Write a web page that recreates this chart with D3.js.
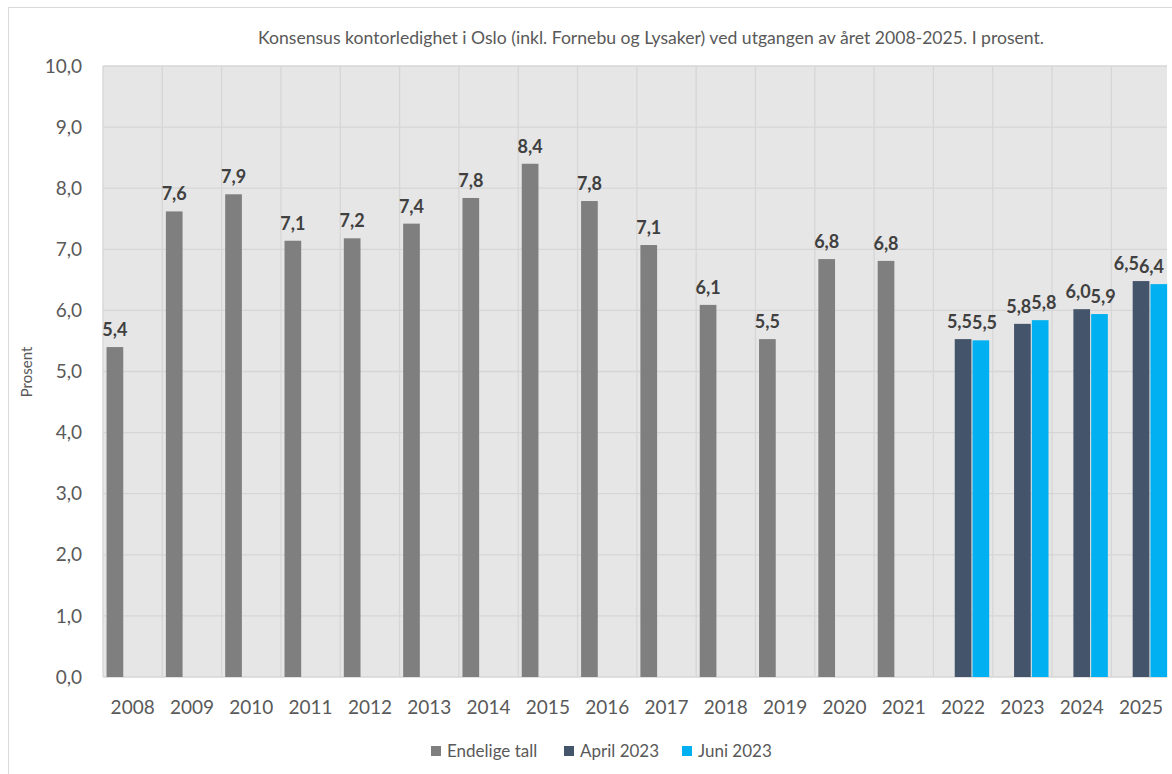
<!DOCTYPE html>
<html lang="no">
<head>
<meta charset="UTF-8">
<title>Konsensus kontorledighet i Oslo</title>
<script src="https://d3js.org/d3.v7.min.js"></script>
<style>
  body { margin: 0; background: #fff; }
  svg { display: block; font-family: Lato, "Open Sans", sans-serif; }
</style>
</head>
<body>
<script>
  // data
  const years = ["2008","2009","2010","2011","2012","2013","2014","2015","2016","2017","2018","2019","2020","2021","2022","2023","2024","2025"];
  const endelige = [5.40, 7.62, 7.90, 7.14, 7.18, 7.42, 7.84, 8.40, 7.79, 7.07, 6.09, 5.53, 6.84, 6.81, null, null, null, null];
  const april = [null, null, null, null, null, null, null, null, null, null, null, null, null, null, 5.53, 5.78, 6.02, 6.48];
  const juni = [null, null, null, null, null, null, null, null, null, null, null, null, null, null, 5.51, 5.84, 5.94, 6.43];
  const seriesNames = ["Endelige tall", "April 2023", "Juni 2023"];
  const seriesColors = ["#7f7f7f", "#44546a", "#00b0f0"];
  const yTicks = [0, 1, 2, 3, 4, 5, 6, 7, 8, 9, 10];

  const W = 1172, H = 774;
  const plot = { left: 103, top: 66, right: 1170.7, bottom: 677 };
  const visibleRight = 1167;

  const svg = d3.select("body").append("svg")
      .attr("width", W)
      .attr("height", H);

  // outer chart frame (cut off by the screenshot on right/bottom)
  svg.append("rect")
      .attr("x", 8.5).attr("y", 7.5)
      .attr("width", W + 10).attr("height", H + 10)
      .attr("fill", "#fff")
      .attr("stroke", "#d9d9d9");

  const x = d3.scaleBand().domain(years).range([plot.left, plot.right]).padding(0);
  const xInner = d3.scaleBand().domain(seriesNames).range([0, x.bandwidth()])
      .paddingInner(0.06).paddingOuter(0.2);
  const y = d3.scaleLinear().domain([0, 10]).range([plot.bottom, plot.top]);

  // plot background
  svg.append("rect")
      .attr("x", plot.left).attr("y", plot.top)
      .attr("width", visibleRight - plot.left).attr("height", plot.bottom - plot.top)
      .attr("fill", "#e6e6e6");

  // grid
  const grid = svg.append("g").attr("stroke", "#d6d6d6").attr("stroke-width", 1.3);
  grid.selectAll("line.h").data(yTicks).join("line")
      .attr("class", "h")
      .attr("x1", plot.left).attr("x2", visibleRight)
      .attr("y1", d => y(d)).attr("y2", d => y(d));
  grid.selectAll("line.v").data(years).join("line")
      .attr("class", "v")
      .attr("x1", d => x(d)).attr("x2", d => x(d))
      .attr("y1", plot.top).attr("y2", plot.bottom);

  // y axis labels
  svg.append("g").selectAll("text").data(yTicks).join("text")
      .attr("x", 82)
      .attr("y", d => y(d))
      .attr("dy", "0.35em")
      .attr("text-anchor", "end")
      .attr("fill", "#595959")
      .attr("font-size", 19)
      .text(d => d3.format(".1f")(d).replace(".", ","));

  // x axis labels
  svg.append("g").selectAll("text").data(years).join("text")
      .attr("x", d => x(d) + x.bandwidth() / 2)
      .attr("y", 714)
      .attr("text-anchor", "middle")
      .attr("fill", "#595959")
      .attr("font-size", 19)
      .text(d => d);

  // bars
  const allSeries = [endelige, april, juni];
  const bars = [];
  allSeries.forEach((vals, i) => {
    vals.forEach((v, j) => {
      if (v != null) bars.push({ year: years[j], series: seriesNames[i], color: seriesColors[i], value: v });
    });
  });

  svg.append("g").selectAll("rect").data(bars).join("rect")
      .attr("x", d => x(d.year) + xInner(d.series))
      .attr("y", d => y(d.value))
      .attr("width", xInner.bandwidth())
      .attr("height", d => y(0) - y(d.value))
      .attr("fill", d => d.color);

  // data labels; the forecast pair is pushed apart so the two labels sit side by side
  const boundary = (xInner("April 2023") + xInner.bandwidth() + xInner("Juni 2023")) / 2;
  const labels = svg.append("g").selectAll("text").data(bars).join("text")
      .attr("x", d => {
        if (d.series === "April 2023" || d.series === "Juni 2023") return x(d.year) + boundary;
        return x(d.year) + xInner(d.series) + xInner.bandwidth() / 2;
      })
      .attr("y", d => y(d.value) - 11)
      .attr("text-anchor", d => d.series === "April 2023" ? "end" : d.series === "Juni 2023" ? "start" : "middle")
      .attr("fill", "#404040")
      .attr("font-size", 18)
      .attr("font-weight", "bold")
      .text(d => d3.format(".1f")(d.value).replace(".", ","));

  // keep labels inside the visible plot: shift a whole year's pair left if needed
  const shiftByYear = {};
  labels.each(function (d) {
    const bb = this.getBBox();
    const over = bb.x + bb.width - (visibleRight - 3);
    if (over > 0) shiftByYear[d.year] = Math.max(shiftByYear[d.year] || 0, over);
  });
  labels.filter(d => shiftByYear[d.year])
      .attr("x", function (d) { return +d3.select(this).attr("x") - shiftByYear[d.year]; });

  // title
  svg.append("text")
      .attr("x", 651)
      .attr("y", 44)
      .attr("text-anchor", "middle")
      .attr("fill", "#595959")
      .attr("font-size", 17.6)
      .text("Konsensus kontorledighet i Oslo (inkl. Fornebu og Lysaker) ved utgangen av året 2008-2025. I prosent.");

  // y axis title
  svg.append("text")
      .attr("transform", "translate(32,372) rotate(-90)")
      .attr("text-anchor", "middle")
      .attr("fill", "#595959")
      .attr("font-size", 15)
      .text("Prosent");

  // legend
  const legendX = [431, 564, 682];
  const legend = svg.append("g").selectAll("g").data(seriesNames).join("g")
      .attr("transform", (d, i) => `translate(${legendX[i]},746)`);
  legend.append("rect")
      .attr("width", 10).attr("height", 10)
      .attr("fill", (d, i) => seriesColors[i]);
  legend.append("text")
      .attr("x", 16).attr("y", 5)
      .attr("dy", "0.35em")
      .attr("fill", "#595959")
      .attr("font-size", 17)
      .text(d => d);
</script>
</body>
</html>
